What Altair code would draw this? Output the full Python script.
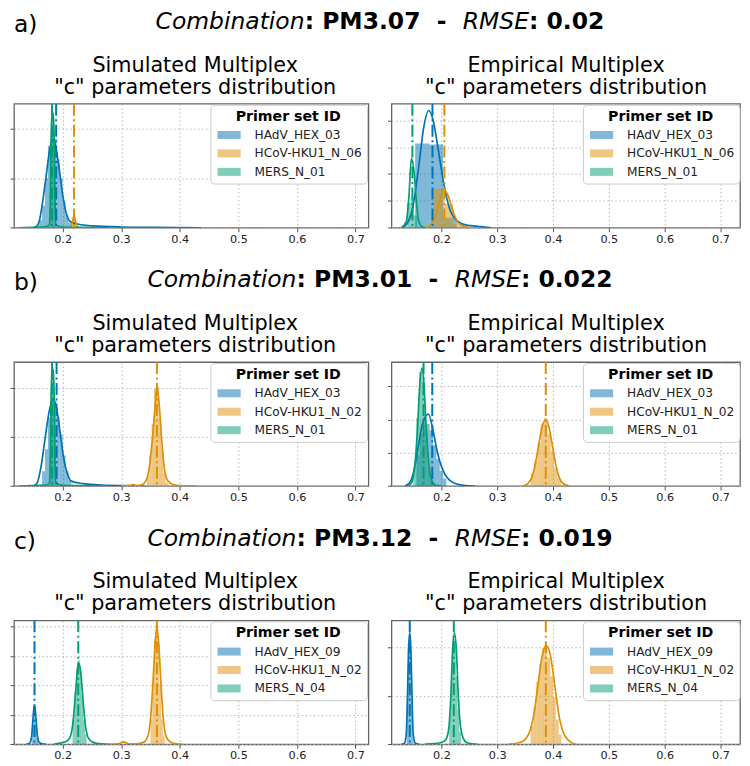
import altair as alt
import pandas as pd

FONT = "DejaVu Sans"
COLORS = ["#0173B2", "#DE8F05", "#029E73"]

# ---------------- texts ----------------
ROW_LABELS = ["a)", "b)", "c)"]
COMBINATIONS = ["PM3.07", "PM3.01", "PM3.12"]
RMSES = ["0.02", "0.022", "0.019"]
SUBTITLE_LEFT = ["Simulated Multiplex", "\"c\" parameters distribution"]
SUBTITLE_RIGHT = ["Empirical Multiplex", "\"c\" parameters distribution"]
LEGEND_TITLE = "Primer set ID"
SERIES_A = ["HAdV_HEX_03", "HCoV-HKU1_N_06", "MERS_N_01"]
SERIES_B = ["HAdV_HEX_03", "HCoV-HKU1_N_02", "MERS_N_01"]
SERIES_C = ["HAdV_HEX_09", "HCoV-HKU1_N_02", "MERS_N_04"]
X_TICKS = [0.2, 0.3, 0.4, 0.5, 0.6, 0.7]

# ---------------- panel a, simulated ----------------
AL_HADV_KX = [0.150, 0.156, 0.160, 0.165, 0.172, 0.178, 0.183, 0.188, 0.194, 0.200, 0.206, 0.213, 0.225, 0.250, 0.300, 0.360, 0.436]
AL_HADV_KY = [0.0, 0.6, 2.5, 9.0, 21.0, 31.5, 35.5, 33.0, 24.0, 13.5, 6.0, 2.5, 1.5, 0.75, 0.3, 0.15, 0.0]
AL_HADV_HE = [0.160, 0.165, 0.170, 0.175, 0.180, 0.185, 0.190, 0.195, 0.200, 0.205, 0.210, 0.215]
AL_HADV_HY = [3, 9, 20, 33, 38.5, 36, 27.5, 20, 11, 5, 2]
AL_HADV_V = 0.189
AL_HCOV_KX = [0.210, 0.214, 0.217, 0.2195, 0.222, 0.225, 0.229]
AL_HCOV_KY = [0.0, 0.4, 2.5, 5.0, 2.5, 0.4, 0.0]
AL_HCOV_HE = [0.2165, 0.2225]
AL_HCOV_HY = [4.0]
AL_HCOV_V = 0.2195
AL_MERS_KX = [0.125, 0.150, 0.170, 0.177, 0.179, 0.180, 0.1815, 0.183, 0.1845, 0.186, 0.187, 0.189, 0.200, 0.230, 0.280]
AL_MERS_KY = [0.0, 0.2, 0.4, 1.0, 10.0, 30.0, 44.0, 46.5, 44.0, 30.0, 10.0, 1.0, 0.3, 0.15, 0.0]
AL_MERS_HE = [0.178, 0.180, 0.182, 0.184, 0.186, 0.188]
AL_MERS_HY = [15, 42.5, 46, 40, 12.5]
AL_MERS_V = 0.182

# ---------------- panel a, empirical ----------------
AR_HADV_KX = [0.130, 0.1363, 0.148, 0.1596, 0.168, 0.1772, 0.186, 0.1947, 0.2065, 0.215, 0.230, 0.247, 0.265, 0.277, 0.290]
AR_HADV_KY = [0.0, 0.9, 6.9, 23.1, 37.0, 43.7, 39.3, 28.6, 13.9, 6.9, 2.3, 0.9, 0.55, 0.23, 0.0]
AR_HADV_HE = [0.153, 0.178, 0.203, 0.228]
AR_HADV_HY = [31.4, 31.0, 3.7]
AR_HADV_V = 0.184
AR_HCOV_KX = [0.170, 0.180, 0.186, 0.195, 0.2036, 0.212, 0.221, 0.230, 0.242, 0.255]
AR_HCOV_KY = [0.0, 0.9, 2.8, 8.3, 14.3, 12.0, 6.0, 1.85, 0.37, 0.0]
AR_HCOV_HE = [0.186, 0.2053, 0.221, 0.240]
AR_HCOV_HY = [14.5, 8.8, 1.4]
AR_HCOV_V = 0.2053
AR_MERS_KX = [0.128, 0.137, 0.1418, 0.1462, 0.151, 0.155, 0.159, 0.165, 0.172]
AR_MERS_KY = [0.0, 2.3, 11.6, 25.9, 20.8, 10.2, 2.8, 0.46, 0.0]
AR_MERS_HE = [0.1385, 0.1445, 0.1505, 0.1565]
AR_MERS_HY = [9.2, 11.0, 4.6]
AR_MERS_V = 0.148

# ---------------- panel b, simulated ----------------
BL_HADV_KX = [0.150, 0.156, 0.163, 0.170, 0.177, 0.184, 0.190, 0.196, 0.202, 0.208, 0.215, 0.235, 0.260, 0.300, 0.340]
BL_HADV_KY = [0.0, 1.0, 7.6, 19.2, 30.4, 35.4, 31.4, 21.3, 11.1, 5.1, 2.0, 1.0, 0.5, 0.15, 0.0]
BL_HADV_HE = [0.165, 0.170, 0.175, 0.180, 0.185, 0.190, 0.195, 0.200, 0.205, 0.210, 0.215]
BL_HADV_HY = [6, 15, 28, 36.5, 34.5, 28, 21, 12.5, 6, 2.5]
BL_HADV_V = 0.1897
BL_HCOV_KX = [0.300, 0.315, 0.320, 0.325, 0.335, 0.342, 0.348, 0.354, 0.358, 0.361, 0.365, 0.369, 0.374, 0.380, 0.390, 0.400, 0.430]
BL_HCOV_KY = [0.0, 0.25, 0.6, 0.25, 0.5, 2.0, 7.6, 21.3, 32.9, 40.5, 32.9, 19.2, 6.6, 2.0, 0.5, 0.15, 0.0]
BL_HCOV_HE = [0.344, 0.348, 0.352, 0.356, 0.360, 0.364, 0.368, 0.372, 0.376, 0.380]
BL_HCOV_HY = [4, 12.7, 25.3, 39.5, 40.5, 27.8, 15.2, 5, 1.5]
BL_HCOV_V = 0.361
BL_MERS_KX = [0.125, 0.150, 0.170, 0.177, 0.179, 0.180, 0.1815, 0.183, 0.1845, 0.186, 0.187, 0.189, 0.200, 0.230, 0.280]
BL_MERS_KY = [0.0, 0.2, 0.4, 1.0, 10.1, 30.4, 45.5, 48.0, 45.5, 30.4, 10.1, 1.0, 0.3, 0.15, 0.0]
BL_MERS_HE = [0.178, 0.180, 0.182, 0.184, 0.186, 0.188]
BL_MERS_HY = [15, 43, 46.5, 40, 12.5]
BL_MERS_V = 0.182

# ---------------- panel b, empirical ----------------
BR_HADV_KX = [0.135, 0.145, 0.152, 0.159, 0.166, 0.1766, 0.185, 0.1915, 0.197, 0.2056, 0.214, 0.225, 0.240, 0.260]
BR_HADV_KY = [0.0, 3.0, 11.2, 24.6, 37.3, 43.3, 33.6, 22.4, 14.9, 7.5, 3.7, 1.5, 0.4, 0.0]
BR_HADV_HE = [0.155, 0.161, 0.167, 0.173, 0.179, 0.185, 0.191, 0.197, 0.203, 0.209]
BR_HADV_HY = [18.7, 31.3, 41.0, 37.3, 33.6, 24.6, 16.4, 9.0, 4.5]
BR_HADV_V = 0.1836
BR_HCOV_KX = [0.345, 0.355, 0.362, 0.368, 0.374, 0.380, 0.387, 0.393, 0.399, 0.405, 0.411, 0.418, 0.430]
BR_HCOV_KY = [0.0, 1.5, 5.2, 12.7, 23.9, 35.1, 39.9, 35.1, 23.9, 12.7, 5.2, 1.5, 0.0]
BR_HCOV_HE = [0.360, 0.366, 0.372, 0.378, 0.384, 0.390, 0.396, 0.402, 0.408, 0.414]
BR_HCOV_HY = [7.5, 14.9, 26.1, 37.3, 41.0, 31.3, 20.9, 11.2, 4.5]
BR_HCOV_V = 0.387
BR_MERS_KX = [0.140, 0.147, 0.152, 0.157, 0.161, 0.165, 0.169, 0.173, 0.178, 0.183, 0.190, 0.200]
BR_MERS_KY = [0.0, 2.2, 11.2, 33.6, 59.7, 70.9, 59.7, 33.6, 11.2, 3.0, 0.4, 0.0]
BR_MERS_HE = [0.150, 0.155, 0.160, 0.165, 0.170, 0.175, 0.180, 0.185]
BR_MERS_HY = [11.2, 41.0, 68.6, 63.4, 33.6, 11.2, 3.7]
BR_MERS_V = 0.168

# ---------------- panel c, simulated ----------------
CL_HADV_KX = [0.138, 0.144, 0.147, 0.149, 0.1505, 0.152, 0.1535, 0.155, 0.157, 0.160, 0.165, 0.172]
CL_HADV_KY = [0.0, 0.8, 5.0, 15.1, 22.7, 26.0, 22.7, 15.1, 5.9, 1.3, 0.25, 0.0]
CL_HADV_HE = [0.148, 0.150, 0.152, 0.154, 0.156, 0.158]
CL_HADV_HY = [16.8, 25.2, 23.5, 12.6, 4.2]
CL_HADV_V = 0.152
CL_HCOV_KX = [0.280, 0.295, 0.305, 0.312, 0.325, 0.338, 0.345, 0.350, 0.354, 0.358, 0.361, 0.364, 0.368, 0.372, 0.377, 0.385, 0.395, 0.405]
CL_HCOV_KY = [0.0, 0.4, 1.7, 0.4, 0.35, 1.3, 5.0, 16.8, 40.3, 68.9, 79.5, 68.9, 40.3, 16.8, 5.0, 1.3, 0.35, 0.0]
CL_HCOV_HE = [0.350, 0.353, 0.356, 0.359, 0.362, 0.365, 0.368, 0.371, 0.374]
CL_HCOV_HY = [16.8, 42.0, 71.4, 81.5, 67.2, 40.3, 16.8, 5.9]
CL_HCOV_V = 0.361
CL_MERS_KX = [0.185, 0.195, 0.205, 0.212, 0.217, 0.221, 0.225, 0.228, 0.231, 0.235, 0.239, 0.244, 0.252, 0.265, 0.280]
CL_MERS_KY = [0.0, 0.8, 1.7, 4.2, 12.6, 29.4, 48.7, 55.1, 48.7, 29.4, 12.6, 4.2, 1.3, 0.25, 0.0]
CL_MERS_HE = [0.217, 0.220, 0.223, 0.226, 0.229, 0.232, 0.235, 0.238, 0.241]
CL_MERS_HY = [16.8, 35.3, 52.1, 57.1, 50.4, 33.6, 16.8, 6.7]
CL_MERS_V = 0.2267

# ---------------- panel c, empirical ----------------
CR_HADV_KX = [0.128, 0.134, 0.137, 0.139, 0.141, 0.1433, 0.1455, 0.1475, 0.1495, 0.153, 0.160]
CR_HADV_KY = [0.0, 1.3, 10.2, 44.8, 96.0, 115.2, 96.0, 44.8, 10.2, 1.3, 0.0]
CR_HADV_HE = [0.138, 0.140, 0.142, 0.144, 0.146, 0.148, 0.150]
CR_HADV_HY = [51.2, 105.0, 115.2, 96.0, 44.8, 10.2]
CR_HADV_V = 0.1433
CR_HCOV_KX = [0.320, 0.330, 0.340, 0.350, 0.358, 0.366, 0.373, 0.380, 0.3883, 0.396, 0.403, 0.410, 0.418, 0.426, 0.434, 0.442]
CR_HCOV_KY = [0.0, 0.64, 1.9, 5.1, 12.8, 32.0, 61.4, 89.6, 101.9, 89.6, 61.4, 32.0, 12.8, 5.1, 1.5, 0.0]
CR_HCOV_HE = [0.360, 0.365, 0.370, 0.375, 0.380, 0.385, 0.390, 0.395, 0.400, 0.405, 0.410, 0.415]
CR_HCOV_HY = [19.2, 38.4, 64.0, 83.2, 99.8, 102.4, 89.6, 70.4, 48.6, 25.6, 10.2]
CR_HCOV_V = 0.3871
CR_MERS_KX = [0.170, 0.185, 0.200, 0.208, 0.213, 0.217, 0.220, 0.2234, 0.227, 0.230, 0.234, 0.239, 0.245, 0.255, 0.265]
CR_MERS_KY = [0.0, 0.64, 1.9, 5.1, 15.4, 51.2, 96.0, 115.2, 96.0, 53.8, 19.2, 6.4, 1.9, 0.5, 0.0]
CR_MERS_HE = [0.214, 0.217, 0.220, 0.223, 0.226, 0.229, 0.232, 0.235]
CR_MERS_HY = [32.0, 76.8, 112.6, 108.8, 70.4, 35.8, 12.8]
CR_MERS_V = 0.2222

# ---------------- layout ----------------
PH = 124.3
LW = 355.4
RW = 349.5
GAP = 15.5
TICK = 4
TOTAL_W = TICK + LW + GAP + TICK + RW
LEFT_CENTER = TICK + LW / 2
RIGHT_CENTER = TICK + LW + GAP + TICK + RW / 2
TITLE_CENTER = 367
HEADER_H = [88, 113.5, 113.5]
X_DOM_LEFT = [0.117, 0.722]
X_DOM_RIGHT = [0.1105, 0.735]

W_REG = {"C": 0.698, "o": 0.612, "m": 0.974, "b": 0.635, "i": 0.278, "n": 0.634,
         "a": 0.613, "t": 0.392, "R": 0.695, "M": 0.863, "S": 0.635, "E": 0.632}
W_BOLD = {":": 0.399, " ": 0.348, "\u00a0": 0.348, "P": 0.733, "M": 0.995, ".": 0.380, "-": 0.415}
for d in "0123456789":
    W_BOLD[d] = 0.696


def text_mark(txt, x, y, size, align="left", style="normal", weight="normal"):
    return alt.Chart(pd.DataFrame({"t": [txt]})).mark_text(
        align=align, baseline="alphabetic", font=FONT, fontSize=size,
        fontStyle=style, fontWeight=weight, color="black"
    ).encode(text="t:N", x=alt.value(x), y=alt.value(y))


def header(i, h):
    size = 23.5
    layers = [text_mark(ROW_LABELS[i], 0, h - 69.5, size)]
    frags = [("Combination", True, False),
             (":\u00a0" + COMBINATIONS[i] + "\u00a0\u00a0-\u00a0\u00a0", False, True),
             ("RMSE", True, False),
             (":\u00a0" + RMSES[i], False, True)]
    widths = []
    for t, it, bd in frags:
        table = W_BOLD if bd else W_REG
        widths.append(sum(table[c] for c in t) * size)
    x = TITLE_CENTER - sum(widths) / 2
    for (t, it, bd), w in zip(frags, widths):
        layers.append(text_mark(t, x, h - 72.5, size,
                                style="italic" if it else "normal",
                                weight="bold" if bd else "normal"))
        x += w
    sub = 20.8
    layers.append(text_mark(SUBTITLE_LEFT[0], LEFT_CENTER, h - 30.0, sub, align="center"))
    layers.append(text_mark(SUBTITLE_LEFT[1], LEFT_CENTER, h - 8.0, sub, align="center"))
    layers.append(text_mark(SUBTITLE_RIGHT[0], RIGHT_CENTER, h - 30.0, sub, align="center"))
    layers.append(text_mark(SUBTITLE_RIGHT[1], RIGHT_CENTER, h - 8.0, sub, align="center"))
    return alt.layer(*layers).properties(
        width=TOTAL_W, height=h, view=alt.ViewBackground(stroke="transparent"))


def panel(names, kdes, hists, vlines, xdom, ymax, ystep, width):
    hist_rows, kde_rows, vl_rows = [], [], []
    for name, col, (edges, heights) in zip(names, COLORS, hists):
        for k, hval in enumerate(heights):
            hist_rows.append({"series": name, "x": edges[k], "x2": edges[k + 1],
                              "y": hval, "y0": 0.0})
    for name, col, (xs, ys) in zip(names, COLORS, kdes):
        for xv, yv in zip(xs, ys):
            kde_rows.append({"series": name, "col": col, "x": xv, "y": yv})
    for name, col, v in zip(names, COLORS, vlines):
        vl_rows.append({"series": name, "col": col, "x": v})

    yvals = []
    k = 0
    while k * ystep <= ymax:
        yvals.append(k * ystep)
        k += 1
    xscale = alt.Scale(domain=xdom, nice=False, zero=False)
    yscale = alt.Scale(domain=[0, ymax], nice=False, zero=True)
    xaxis = alt.Axis(title=None, values=X_TICKS, format=".1f", grid=True, labelFlush=False,
                     minExtent=0, tickSize=TICK)
    yaxis = alt.Axis(title=None, values=yvals, labels=False, grid=True, minExtent=0,
                     maxExtent=TICK, tickSize=TICK)

    legend = alt.Legend(
        title=LEGEND_TITLE, orient="top-right", offset=1, padding=5,
        fillColor="white", strokeColor="#cccccc", cornerRadius=4,
        titleFont=FONT, titleFontSize=14.2, titleFontWeight="bold", titleColor="black",
        titleAnchor="middle", titlePadding=5,
        labelFont=FONT, labelFontSize=12.2, labelColor="#222222",
        symbolType="M-2.9,-1H2.9V1H-2.9Z", symbolSize=64, symbolOpacity=0.5,
        symbolStrokeWidth=0, symbolOffset=7.6, labelOffset=19.4, rowPadding=5.5)

    bars = alt.Chart(pd.DataFrame(hist_rows)).mark_bar(opacity=0.5, clip=True, strokeWidth=0).encode(
        x=alt.X("x:Q", scale=xscale, axis=xaxis),
        x2="x2:Q",
        y=alt.Y("y:Q", scale=yscale, axis=yaxis),
        y2="y0:Q",
        color=alt.Color("series:N", scale=alt.Scale(domain=names, range=COLORS), legend=legend),
    )
    lines = alt.Chart(pd.DataFrame(kde_rows)).mark_line(
        strokeWidth=1.7, interpolate="monotone", clip=True).encode(
        x=alt.X("x:Q", scale=xscale, axis=xaxis),
        y=alt.Y("y:Q", scale=yscale, axis=yaxis),
        color=alt.Color("col:N", scale=None),
        detail="series:N",
    )
    rules = alt.Chart(pd.DataFrame(vl_rows)).mark_rule(
        strokeWidth=2, strokeDash=[12, 3.5, 2, 3.5], clip=True).encode(
        x=alt.X("x:Q", scale=xscale, axis=xaxis),
        color=alt.Color("col:N", scale=None),
    )
    return alt.layer(bars, lines, rules).resolve_scale(color="independent").properties(
        width=width, height=PH)


PANELS = [
    (SERIES_A,
     [(AL_HADV_KX, AL_HADV_KY), (AL_HCOV_KX, AL_HCOV_KY), (AL_MERS_KX, AL_MERS_KY)],
     [(AL_HADV_HE, AL_HADV_HY), (AL_HCOV_HE, AL_HCOV_HY), (AL_MERS_HE, AL_MERS_HY)],
     [AL_HADV_V, AL_HCOV_V, AL_MERS_V], 50, 20,
     [(AR_HADV_KX, AR_HADV_KY), (AR_HCOV_KX, AR_HCOV_KY), (AR_MERS_KX, AR_MERS_KY)],
     [(AR_HADV_HE, AR_HADV_HY), (AR_HCOV_HE, AR_HCOV_HY), (AR_MERS_HE, AR_MERS_HY)],
     [AR_HADV_V, AR_HCOV_V, AR_MERS_V], 46.2, 10),
    (SERIES_B,
     [(BL_HADV_KX, BL_HADV_KY), (BL_HCOV_KX, BL_HCOV_KY), (BL_MERS_KX, BL_MERS_KY)],
     [(BL_HADV_HE, BL_HADV_HY), (BL_HCOV_HE, BL_HCOV_HY), (BL_MERS_HE, BL_MERS_HY)],
     [BL_HADV_V, BL_HCOV_V, BL_MERS_V], 50.6, 20,
     [(BR_HADV_KX, BR_HADV_KY), (BR_HCOV_KX, BR_HCOV_KY), (BR_MERS_KX, BR_MERS_KY)],
     [(BR_HADV_HE, BR_HADV_HY), (BR_HCOV_HE, BR_HCOV_HY), (BR_MERS_HE, BR_MERS_HY)],
     [BR_HADV_V, BR_HCOV_V, BR_MERS_V], 74.6, 20),
    (SERIES_C,
     [(CL_HADV_KX, CL_HADV_KY), (CL_HCOV_KX, CL_HCOV_KY), (CL_MERS_KX, CL_MERS_KY)],
     [(CL_HADV_HE, CL_HADV_HY), (CL_HCOV_HE, CL_HCOV_HY), (CL_MERS_HE, CL_MERS_HY)],
     [CL_HADV_V, CL_HCOV_V, CL_MERS_V], 84, 20,
     [(CR_HADV_KX, CR_HADV_KY), (CR_HCOV_KX, CR_HCOV_KY), (CR_MERS_KX, CR_MERS_KY)],
     [(CR_HADV_HE, CR_HADV_HY), (CR_HCOV_HE, CR_HCOV_HY), (CR_MERS_HE, CR_MERS_HY)],
     [CR_HADV_V, CR_HCOV_V, CR_MERS_V], 128, 50),
]

rows = []
for i, (names, lk, lh, lv, lmax, lstep, rk, rh, rv, rmax, rstep) in enumerate(PANELS):
    left = panel(names, lk, lh, lv, X_DOM_LEFT, lmax, lstep, LW)
    right = panel(names, rk, rh, rv, X_DOM_RIGHT, rmax, rstep, RW)
    pair = alt.hconcat(left, right, spacing=GAP).resolve_scale(
        x="independent", y="independent", color="independent").resolve_legend(color="independent")
    rows.append(header(i, HEADER_H[i]))
    rows.append(pair)

chart = alt.vconcat(*rows, spacing=0).resolve_scale(
    x="independent", y="independent", color="independent").resolve_legend(
    color="independent").properties(padding=0, background="white").configure(
    font=FONT).configure_view(stroke="#666666", strokeWidth=1.3).configure_axis(
    labelFont=FONT, labelFontSize=11.3, labelColor="#222222", labelPadding=1.5,
    tickColor="#555555", tickWidth=1, domain=False,
    gridColor="#b0b0b0", gridDash=[1.5, 2.5], gridWidth=0.9)

chart.save("out.html", embed_options={"renderer": "svg", "actions": False})
